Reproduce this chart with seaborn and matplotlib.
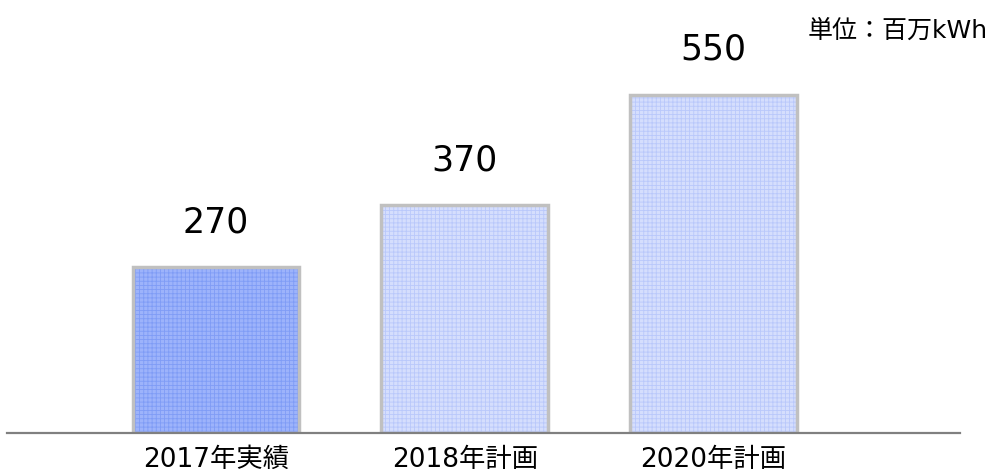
import matplotlib
matplotlib.use("Agg")
import matplotlib.pyplot as plt
import seaborn as sns
import pandas as pd

# ── Data ─────────────────────────────────────────────────────────────────────
categories = ["2017年実績", "2018年計画", "2020年計画"]
values     = [270, 370, 550]
unit_label = "単位：百万kWh"

# ── Style ────────────────────────────────────────────────────────────────────
sns.set_style("white")
plt.rcParams["font.family"] = ["DejaVu Sans", "Noto Sans CJK JP"]
plt.rcParams["hatch.linewidth"] = 0.6

FACE   = ["#9db3fb", "#d5defd", "#d5defd"]
HATCH  = ["#7f9cf6", "#b9c8fb", "#b9c8fb"]
EDGE   = "#c0c0c0"
AXIS   = "#808080"

df = pd.DataFrame({"cat": categories, "val": values})

fig = plt.figure(figsize=(9.94, 4.75), dpi=100, facecolor="white")
ax = fig.add_axes([7 / 994, 42 / 475, 953 / 994, 433 / 475])

sns.barplot(data=df, x="cat", y="val", hue="cat", palette=FACE,
            width=0.67, legend=False, ax=ax, saturation=1)

for bar, hc in zip(ax.patches, HATCH):
    bar.set_hatch("++++")
    bar.set_edgecolor(hc)
    bar.set_linewidth(0)

# grey outline over each bar
ax.bar(range(len(values)), values, width=0.67, facecolor="none",
       edgecolor=EDGE, linewidth=2.5, zorder=3)

# value labels
for i, v in enumerate(values):
    ax.annotate(f"{v}", (i, v), xytext=(0, 20), textcoords="offset points",
                ha="center", va="bottom", fontsize=25, color="black")

ax.set_xlim(-0.841, 2.992)
ax.set_ylim(0, 704)
ax.set_xlabel("")
ax.set_ylabel("")
ax.set_yticks([])
ax.set_xticks(range(len(categories)))
ax.set_xticklabels(categories, fontsize=19, color="black")
ax.tick_params(axis="x", length=0, pad=10)
for side in ["top", "right", "left"]:
    ax.spines[side].set_visible(False)
ax.spines["bottom"].set_color(AXIS)
ax.spines["bottom"].set_linewidth(1.6)
ax.spines["bottom"].set_zorder(4)

fig.text(988 / 994, 1 - 31 / 475, unit_label, ha="right", va="center",
         fontsize=18, color="black")

fig.savefig("out.png", dpi=100, facecolor="white")
